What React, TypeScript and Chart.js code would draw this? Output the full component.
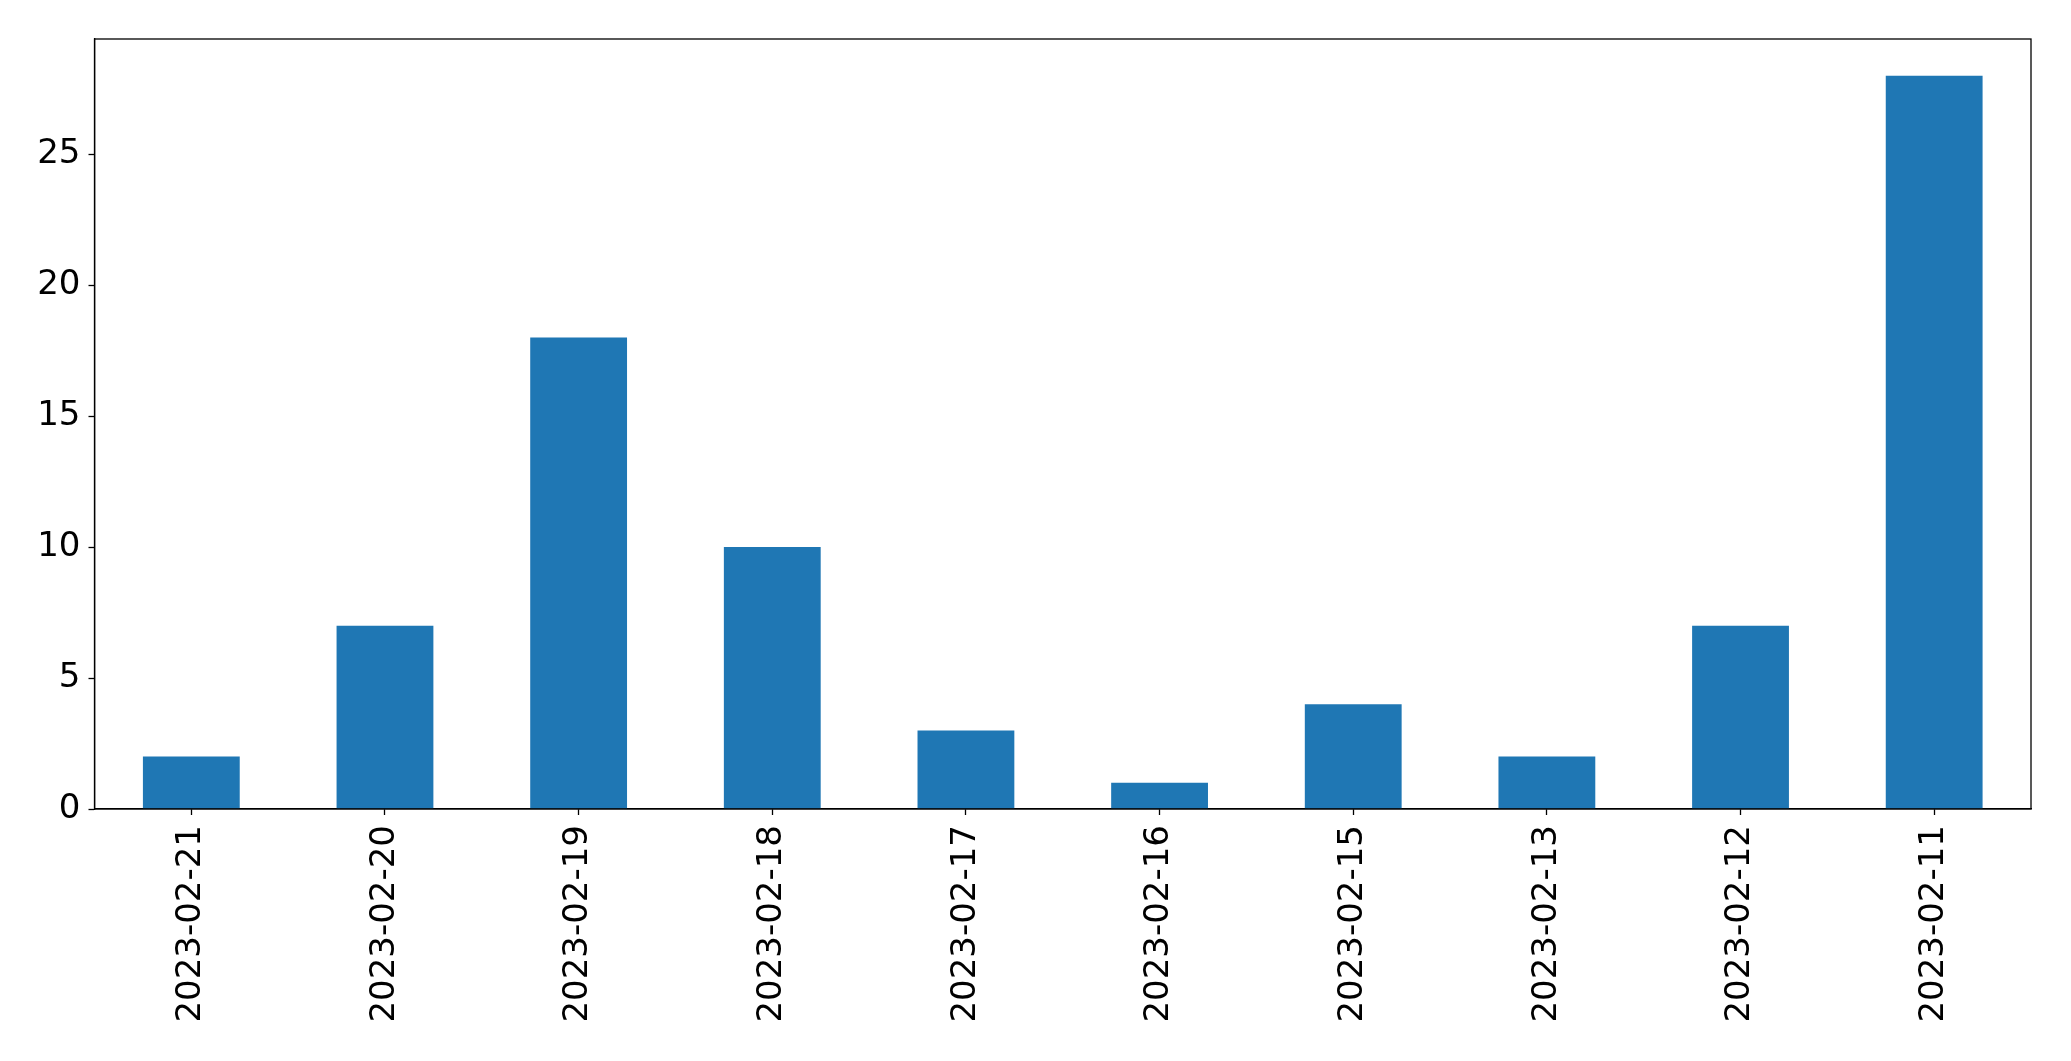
import React, { useEffect, useRef } from "react";
import { Chart, registerables } from "chart.js";

Chart.register(...registerables);

const categories = [
  "2023-02-21", "2023-02-20", "2023-02-19", "2023-02-18", "2023-02-17",
  "2023-02-16", "2023-02-15", "2023-02-13", "2023-02-12", "2023-02-11",
];
const counts = [2, 7, 18, 10, 3, 1, 4, 2, 7, 28];
const yTicks = [0, 5, 10, 15, 20, 25];

const FONT = "'DejaVu Sans', sans-serif";

const framePlugin = {
  id: "frame",
  afterDraw(chart: any) {
    const { ctx, chartArea } = chart;
    ctx.save();
    ctx.strokeStyle = "#000";
    ctx.lineWidth = 1.3;
    ctx.strokeRect(chartArea.left, chartArea.top, chartArea.right - chartArea.left, chartArea.bottom - chartArea.top);
    ctx.restore();
  },
};

export default function App() {
  const ref = useRef<HTMLCanvasElement | null>(null);
  useEffect(() => {
    document.body.style.margin = "0";
    const chart = new Chart(ref.current as HTMLCanvasElement, {
      type: "bar",
      data: {
        labels: categories,
        datasets: [
          {
            data: counts,
            backgroundColor: "#1f77b4",
            borderWidth: 0,
            barPercentage: 0.5,
            categoryPercentage: 1,
          },
        ],
      },
      options: {
        animation: false,
        responsive: false,
        devicePixelRatio: 1,
        layout: { padding: { left: 0, top: 39, right: 40, bottom: 0 } },
        plugins: { legend: { display: false }, tooltip: { enabled: false } },
        scales: {
          x: {
            grid: { display: true, offset: false, drawOnChartArea: false, drawTicks: true, tickLength: 6, tickColor: "#000", tickWidth: 1.3 },
            border: { display: true, color: "#000", width: 1.3 },
            ticks: {
              color: "#000",
              font: { family: FONT, size: 34 },
              minRotation: 90,
              maxRotation: 90,
              padding: 10,
              autoSkip: false,
            },
            afterFit(scale: any) {
              scale.height = 252;
            },
          },
          y: {
            min: 0,
            max: 29.4,
            grid: { display: true, drawOnChartArea: false, drawTicks: true, tickLength: 6, tickColor: "#000", tickWidth: 1.3 },
            border: { display: true, color: "#000", width: 1.3 },
            afterBuildTicks(scale: any) {
              scale.ticks = yTicks.map((v) => ({ value: v }));
            },
            ticks: {
              color: "#000",
              font: { family: FONT, size: 34 },
              padding: 8,
            },
            afterFit(scale: any) {
              scale.width = 94.5;
            },
          },
        },
      },
      plugins: [framePlugin],
    });
    return () => chart.destroy();
  }, []);
  return (
    <canvas
      ref={ref}
      width={2071}
      height={1061}
      style={{ position: "fixed", left: 0, top: 0, width: 2071, height: 1061 }}
    />
  );
}
